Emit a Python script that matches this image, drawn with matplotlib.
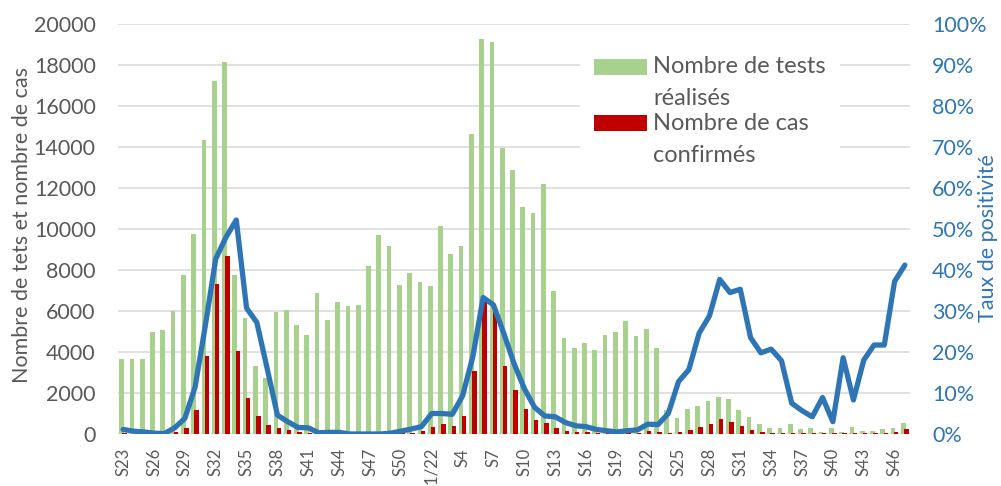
import matplotlib
matplotlib.use("Agg")
import matplotlib.pyplot as plt
import numpy as np

plt.rcParams['font.family'] = ['Lato', 'DejaVu Sans']

# semaines S23 -> S52, puis S1/22 -> S47
weeks = [f"S{w}" for w in range(23, 53)] + ["S1/22"] + [f"S{w}" for w in range(2, 48)]

tests = [3650, 3650, 3650, 5000, 5050, 6000, 7750, 9750, 14350, 17200, 18150,
         7750, 5650, 3300, 2750, 5950, 6050, 5300, 4850,
         6900, 5550, 6450, 6250, 6300, 8200, 9700, 9150, 7250, 7850, 7400, 7200,
         10150, 8800, 9150, 14650, 19250, 19100, 13950, 12900, 11050, 10800, 12200,
         7000, 4700, 4200, 4450, 4100, 4850, 5000, 5500, 4800, 5100, 4200,
         1150, 800, 1200, 1350, 1600, 1800, 1700, 1150, 850, 500, 300, 300,
         500, 250, 300, 100, 300, 100, 350, 150, 150, 250, 280, 550]

cases = [60, 20, 10, 10, 10, 110, 310, 1170, 3820, 7320, 8680,
         4050, 1740, 890, 440, 280, 200, 80, 60,
         40, 30, 20, 20, 20, 30, 40, 50, 80, 50, 150, 360,
         490, 410, 860, 3070, 6450, 6100, 3300, 2150, 1220, 700, 520,
         290, 130, 80, 80, 50, 40, 40, 40, 40, 130, 100,
         50, 80, 180, 330, 470, 720, 600, 410, 200, 80, 60, 40,
         30, 30, 30, 30, 30, 30, 40, 40, 50, 60, 100, 230]

positivity = [1.1, 0.7, 0.5, 0.2, 0.1, 1.5, 3.8, 11.5, 26.6, 42.7, 48.0,
              52.2, 30.7, 27.2, 16.0, 4.6, 3.0, 1.6, 1.5,
              0.3, 0.4, 0.4, 0.0, 0.0, 0.0, 0.0, 0.2, 0.7, 1.2, 1.8, 5.0,
              5.0, 4.8, 9.3, 18.9, 33.3, 31.5, 24.6, 17.2, 11.1, 6.5, 4.4,
              4.2, 2.8, 2.0, 1.8, 1.1, 0.8, 0.5, 0.8, 1.0, 2.4, 2.3,
              5.0, 12.8, 15.7, 24.6, 28.8, 37.7, 34.5, 35.3, 23.5, 19.8, 20.7, 17.9,
              7.5, 5.7, 4.2, 8.9, 3.0, 18.6, 8.3, 18.0, 21.7, 21.7, 37.2, 41.2]

grey = "#595959"
blue = "#2E75B6"
green = "#A9D18E"
red = "#C00000"

x = np.arange(len(weeks))

fig = plt.figure(figsize=(10.01, 4.86), dpi=100)
ax = fig.add_axes([118 / 1001, 52 / 486, 792 / 1001, 410 / 486])
ax2 = ax.twinx()

ax.bar(x - 0.145, tests, width=0.45, color=green, zorder=2, label="Nombre de tests\nréalisés")
ax.bar(x + 0.145, cases, width=0.42, color=red, zorder=3, label="Nombre de cas\nconfirmés")
ax2.plot(x, positivity, color=blue, lw=3.8, solid_joinstyle='round', solid_capstyle='round')

ax.set_xlim(-0.5, len(weeks) - 0.5)
ax.set_ylim(0, 20000)
ax.set_yticks(np.arange(0, 20001, 2000))
ax2.set_ylim(0, 100)
ax2.set_yticks(np.arange(0, 101, 10))
ax2.set_yticklabels([f"{v}%" for v in range(0, 101, 10)])

ax.set_xticks(x[::3])
ax.set_xticklabels(weeks[::3], rotation=90)

ax.grid(axis='y', color="#D9D9D9", lw=1.1)
ax.set_axisbelow(True)
for a in (ax, ax2):
    for s in a.spines.values():
        s.set_visible(False)

ax.tick_params(axis='y', length=0, pad=16, labelsize=15.5, labelcolor=grey)
ax.tick_params(axis='x', length=0, pad=10, labelsize=12, labelcolor=grey)
ax2.tick_params(axis='y', length=0, pad=16, labelsize=15.5, labelcolor=blue)

ax.set_ylabel("Nombre de tets et nombre de cas", fontsize=15.5, color=grey)
ax2.set_ylabel("Taux de positivité", fontsize=15.5, color=blue)
ax.yaxis.label.set_va('center')
ax2.yaxis.label.set_va('center')
ax.yaxis.set_label_coords(-0.121, 0.51)
ax2.yaxis.set_label_coords(1.098, 0.478)

h, l = ax.get_legend_handles_labels()
leg = ax2.legend(h, l, loc='upper left', bbox_to_anchor=(568 / 1001, 1 - 30 / 486),
                 bbox_transform=fig.transFigure, fontsize=17, frameon=True,
                 facecolor='white', edgecolor='none', framealpha=1, fancybox=False,
                 borderpad=0.6, handlelength=2.25, handleheight=0.68,
                 handletextpad=0.25, labelspacing=0.15)
for t in leg.get_texts():
    t.set_color(grey)
    t.set_linespacing(1.65)
for p in leg.legend_handles:
    p.set_y(p.get_y() + 11.5)

fig.savefig("out.png", dpi=100)
